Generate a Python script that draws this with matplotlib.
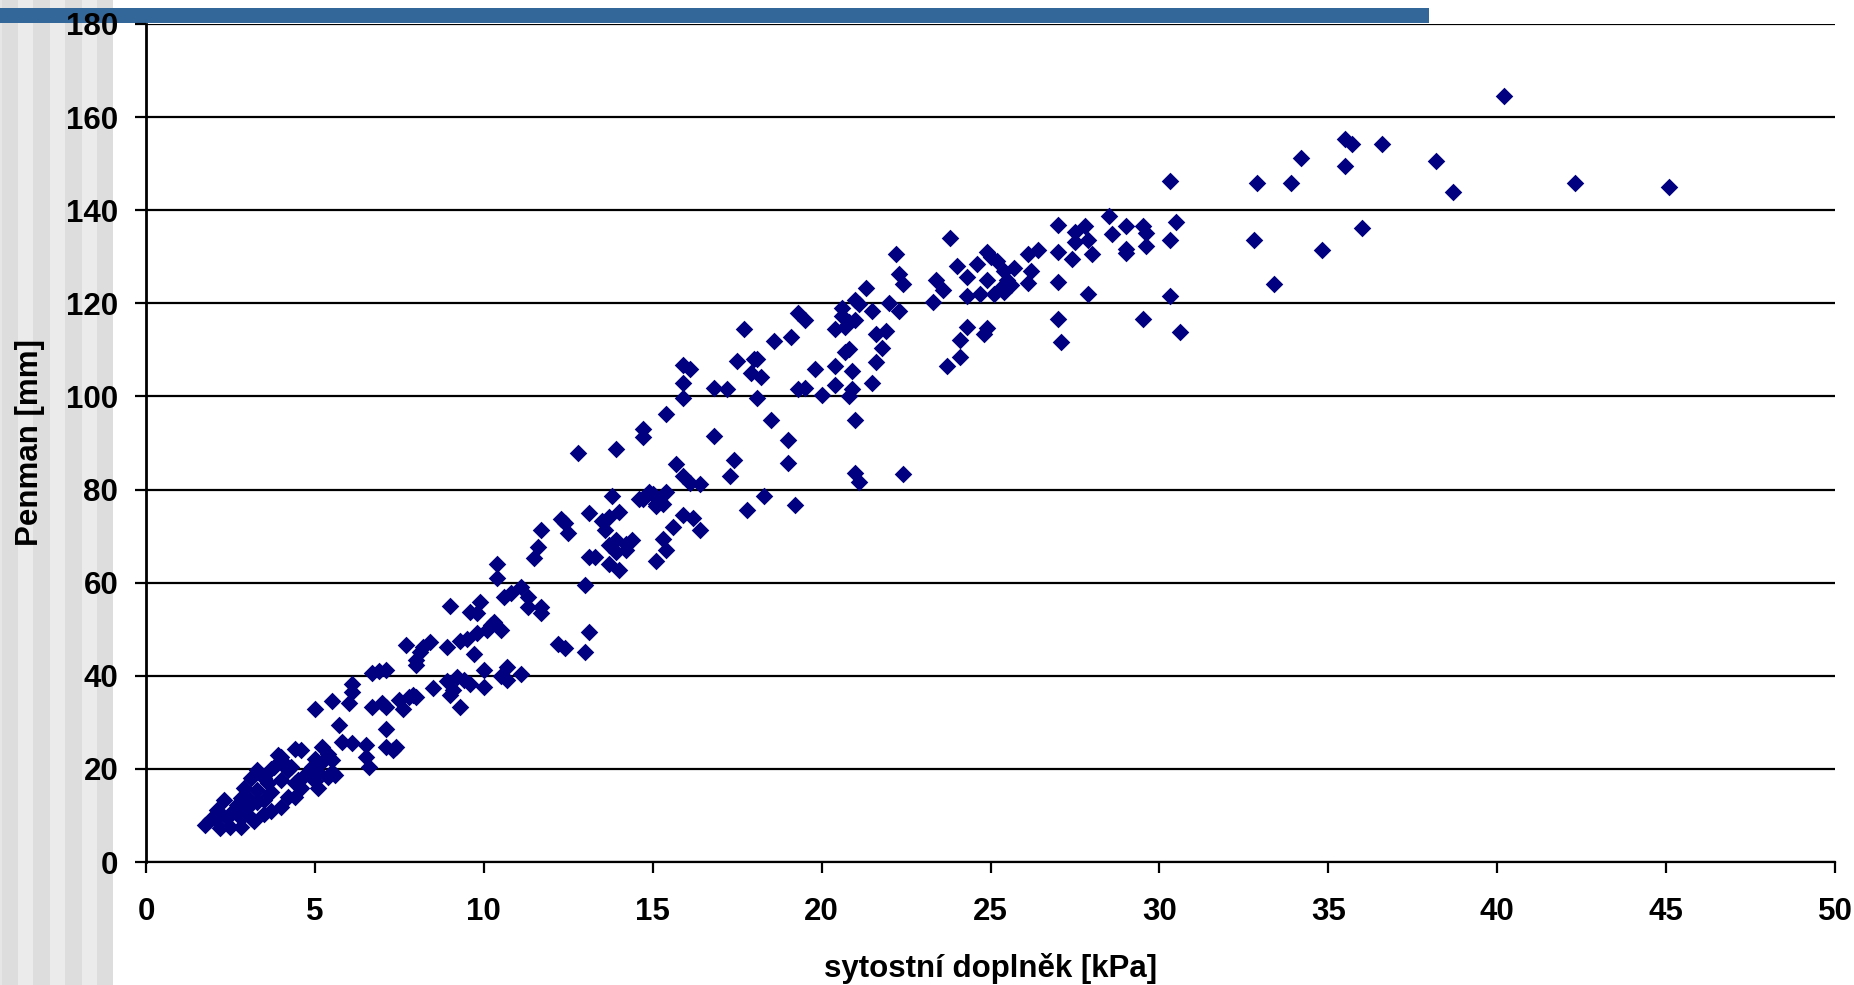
import matplotlib
matplotlib.use("Agg")
import matplotlib.pyplot as plt
from matplotlib.patches import Rectangle

# sytostní doplněk [kPa] vs. Penman [mm]
x_kpa = [
    40.2, 35.5, 35.7, 36.6, 34.2, 35.5, 38.2, 32.9, 33.9, 38.7, 42.3, 45.1, 36.0, 32.8, 34.8, 33.4,
    30.3, 30.5, 30.3, 30.3, 30.6,
    27.0, 27.5, 27.8, 28.5, 29.0, 29.5, 29.6, 28.6, 27.5, 27.9, 23.8, 29.6, 29.0, 29.0, 27.0, 28.0,
    27.4, 26.4, 26.1, 24.9, 25.0, 25.2, 24.6, 24.0, 25.7, 25.4, 26.2, 24.3, 24.9, 23.4, 25.5, 25.6,
    26.1, 27.0, 23.6, 25.3, 25.1, 25.4, 24.7, 24.3, 27.9, 23.3, 27.0, 29.5, 27.1, 24.3, 24.9, 24.8,
    24.1, 24.1, 23.7, 22.4,
    22.2, 22.3, 22.4, 21.3, 21.0, 21.1, 21.5, 22.0, 22.3, 20.6, 20.6, 20.8, 21.0, 20.7, 20.4, 19.3,
    19.5, 19.1, 21.6, 21.9, 21.8, 20.8, 20.7, 21.6, 17.7, 18.6,
    15.9, 16.1, 15.9, 15.9, 17.5, 18.0, 18.1, 17.9, 18.2, 16.8, 17.2, 18.1, 19.8, 20.4, 20.9, 19.3,
    19.5, 20.0, 20.4, 20.9, 20.8, 21.5, 15.4, 14.7, 14.7, 16.8, 18.5, 21.0, 19.0, 19.0, 17.4, 15.7,
    17.3, 15.9, 16.1, 16.4, 21.0, 21.1, 14.9, 15.4, 15.2, 15.1, 14.7, 18.3, 19.2, 17.8, 15.9, 16.2,
    16.4, 15.6, 15.3, 15.4, 15.1,
    12.8, 13.9, 13.8, 14.6, 15.0, 15.3, 15.1, 13.1, 12.3, 12.4, 11.7, 12.5, 14.0, 13.7, 13.5, 13.6,
    11.6, 11.5, 13.7, 13.9, 14.2, 14.4, 14.2, 13.9, 13.1, 13.3, 13.7, 14.0, 10.4, 10.4, 13.0, 10.6,
    10.8, 11.1, 11.3, 11.3, 11.7, 11.7, 9.0, 9.9, 9.8, 9.6, 10.3, 10.2, 10.5, 10.1, 9.8, 9.5,
    9.3, 13.1, 12.2, 12.4, 13.0, 8.4, 8.2, 8.1, 7.7, 8.0, 8.0, 8.9, 9.7, 10.0, 10.7, 10.5,
    10.7, 11.1, 9.2, 9.4, 8.9, 9.6, 9.1, 9.0, 9.3, 10.0, 8.5, 8.0, 7.8, 7.5, 7.6, 7.1,
    7.1, 7.1, 7.1, 7.4,
    6.9, 6.7, 6.1, 6.1, 5.5, 6.0, 5.0, 5.7, 6.7, 7.0, 7.9, 5.8, 6.1, 6.5, 6.5, 6.6,
    7.3, 4.4, 4.6, 5.2, 5.4, 5.0, 5.5, 5.2, 3.9, 4.1, 4.3, 3.3, 3.7, 4.7, 5.1, 5.5,
    5.4, 5.1, 5.0, 3.1, 3.5, 4.0, 4.4, 4.6, 2.9, 3.3, 3.7, 4.2, 4.0, 2.3, 2.8, 3.3,
    3.5, 2.6, 3.0, 3.5, 2.2, 2.0, 1.75, 1.9, 2.2, 2.5, 2.8, 2.4, 2.8, 3.1, 3.7, 3.2,
    4.9, 4.4, 5.6, 3.6, 3.0, 2.7, 2.1, 4.0, 3.8, 4.2, 4.5,
]
penman_mm = [
    164.5, 155.3, 154.3, 154.3, 151.3, 149.6, 150.5, 145.8, 145.8, 144.0, 145.8, 144.9, 136.1, 133.5, 131.4, 124.1,
    146.3, 137.4, 133.6, 121.6, 113.9,
    136.9, 135.4, 136.7, 138.7, 136.6, 136.7, 135.2, 134.9, 133.1, 133.6, 134.0, 132.3, 131.7, 130.9, 131.0, 130.5,
    129.6, 131.4, 130.6, 131.1, 130.0, 129.1, 128.4, 128.0, 127.5, 127.0, 127.0, 125.7, 125.0, 125.0, 125.0, 123.9,
    124.4, 124.6, 122.9, 123.2, 122.1, 122.5, 122.0, 121.6, 122.0, 120.3, 116.6, 116.6, 111.8, 115.0, 114.6, 113.5,
    112.2, 108.4, 106.6, 83.3,
    130.5, 126.4, 124.1, 123.2, 120.7, 119.8, 118.4, 120.0, 118.4, 118.9, 117.2, 116.0, 116.4, 115.0, 114.4, 118.0,
    116.5, 112.7, 113.5, 114.0, 110.5, 110.2, 109.6, 107.5, 114.4, 111.9,
    106.7, 105.8, 102.9, 99.6, 107.6, 108.0, 108.0, 105.1, 104.1, 101.9, 101.7, 99.6, 105.9, 106.6, 105.4, 101.6,
    101.9, 100.3, 102.4, 101.5, 100.1, 102.8, 96.2, 93.1, 91.2, 91.5, 94.9, 94.9, 90.6, 85.8, 86.3, 85.5,
    82.9, 82.9, 81.4, 81.3, 83.5, 81.7, 79.5, 79.5, 77.7, 76.9, 77.9, 78.7, 76.7, 75.7, 74.5, 73.8,
    71.4, 71.9, 69.3, 67.1, 64.6,
    87.9, 88.8, 78.7, 77.9, 79.1, 77.0, 76.4, 74.9, 73.6, 72.9, 71.4, 70.6, 75.2, 74.1, 73.3, 71.3,
    67.7, 65.3, 68.1, 69.2, 68.4, 69.2, 67.0, 66.6, 65.6, 65.6, 64.1, 62.8, 64.1, 60.9, 59.6, 57.0,
    57.7, 59.0, 57.0, 54.8, 54.8, 53.4, 55.0, 55.9, 53.4, 53.7, 51.6, 50.9, 49.8, 49.8, 49.1, 48.0,
    47.5, 49.4, 46.9, 45.9, 45.1, 47.3, 46.2, 45.1, 46.7, 43.4, 42.4, 46.2, 44.6, 41.2, 41.9, 40.0,
    39.1, 40.4, 39.8, 39.1, 38.9, 38.3, 36.9, 35.8, 33.2, 37.5, 37.3, 35.5, 35.5, 34.9, 32.8, 41.2,
    33.4, 28.5, 24.8, 24.8,
    41.1, 40.5, 38.3, 36.6, 34.6, 34.1, 32.8, 29.4, 33.4, 34.1, 35.8, 25.8, 25.5, 25.1, 22.6, 20.5,
    24.0, 24.2, 24.0, 24.7, 23.3, 22.2, 21.9, 21.5, 23.0, 21.2, 20.5, 19.7, 20.0, 18.7, 19.4, 19.4,
    18.3, 15.8, 17.5, 18.0, 18.0, 17.6, 16.9, 15.8, 15.8, 15.5, 15.1, 14.0, 11.9, 13.3, 13.7, 12.9,
    13.3, 11.2, 11.5, 10.4, 10.4, 9.4, 7.9, 9.0, 7.2, 7.6, 7.6, 9.4, 9.4, 9.4, 11.0, 8.9,
    20.5, 14.0, 18.7, 16.9, 14.0, 12.2, 11.2, 22.6, 20.4, 19.8, 17.6,
]
x_ticks = [0, 5, 10, 15, 20, 25, 30, 35, 40, 45, 50]
y_ticks = [0, 20, 40, 60, 80, 100, 120, 140, 160, 180]

plt.rcParams["font.family"] = ["Liberation Sans", "DejaVu Sans"]
plt.rcParams["font.weight"] = "bold"

fig = plt.figure(figsize=(18.54, 9.85), dpi=100)
W, H = 1854, 985

# grey striped strip on the left edge and blue bar on top (slide decoration)
stripes = [(0, 1.7, "#e6e6e6"), (1.7, 17.7, "#dddddd"), (17.7, 33.3, "#ebebeb"),
           (33.3, 50, "#dddddd"), (50, 65.3, "#ebebeb"), (65.3, 81.7, "#dddddd"),
           (81.7, 97.3, "#ebebeb"), (97.3, 113.3, "#dddddd")]
for x0, x1, c in stripes:
    fig.patches.append(Rectangle((x0 / W, 0), (x1 - x0) / W, 1, transform=fig.transFigure,
                                 facecolor=c, edgecolor="none", zorder=0))
fig.patches.append(Rectangle((0, 1 - 23 / H), 1429 / W, 15 / H, transform=fig.transFigure,
                             facecolor="#336699", edgecolor="none", zorder=1))

ax = fig.add_axes([146 / W, 1 - 862 / H, (1835 - 146) / W, (862 - 24) / H])
ax.set_zorder(2)
ax.patch.set_alpha(0)

ax.scatter(x_kpa, penman_mm, marker="D", s=80, color="#000080", linewidths=0, zorder=3,
           clip_on=False)

ax.set_xlim(0, 50)
ax.set_ylim(0, 180)
ax.set_xticks(x_ticks)
ax.set_yticks(y_ticks)
ax.yaxis.grid(True, color="black", linewidth=1.6)
ax.set_axisbelow(True)

for s in ["top", "right"]:
    ax.spines[s].set_visible(False)
ax.spines["left"].set_linewidth(2.0)
ax.spines["bottom"].set_linewidth(1.6)

ax.tick_params(axis="x", direction="out", length=8, width=1.6, pad=17, labelsize=22.5)
ax.tick_params(axis="y", direction="out", length=8, width=1.6, pad=12, labelsize=22.5)
for lbl in ax.get_xticklabels() + ax.get_yticklabels():
    lbl.set_fontweight("bold")

ax.set_xlabel("sytostní doplněk [kPa]", fontsize=22.5, fontweight="bold", va="center")
ax.xaxis.set_label_coords(0.5, (862 - 968) / (862 - 24))
ax.set_ylabel("Penman [mm]", fontsize=22.5, fontweight="bold", va="center", ha="center")
ax.yaxis.set_label_coords((30 - 146) / (1835 - 146), 0.5)

fig.savefig("out.png", dpi=100)
